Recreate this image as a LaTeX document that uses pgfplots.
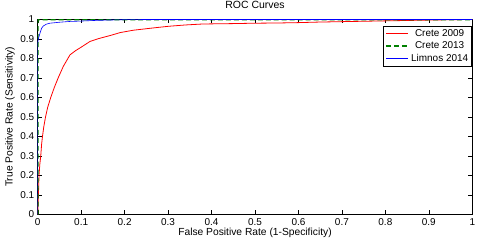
\documentclass[border=0pt]{standalone}
\usepackage{pgfplots}
\pgfplotsset{compat=1.18}
\usepackage{fontspec}
\setmainfont{Liberation Sans}
\definecolor{mgreen}{rgb}{0,0.5,0}
\begin{document}
\begin{tikzpicture}
\begin{axis}[
  scale only axis, width=434.6bp, height=195bp,
  xmin=0, xmax=1, ymin=0, ymax=1,
  xtick={0,0.1,...,1}, ytick={0,0.1,...,1},
  xticklabels={0,0.1,0.2,0.3,0.4,0.5,0.6,0.7,0.8,0.9,1},
  yticklabels={0,0.1,0.2,0.3,0.4,0.5,0.6,0.7,0.8,0.9,1},
  tick align=inside, tick pos=both, major tick length=4bp,
  tick label style={font=\fontsize{10}{11}\selectfont},
  major tick style={black, line width=0.4pt},
  xticklabel style={anchor=base, yshift=-10.5bp},
  yticklabel style={inner sep=0pt, xshift=-3.4bp},
  title={ROC Curves}, title style={font=\fontsize{10.5}{12}\selectfont, at={(0.5,1)}, anchor=base, yshift=5bp},
  xlabel={False Positive Rate (1-Specificity)}, ylabel={True Positive Rate (Sensitivity)},
  label style={font=\fontsize{10.3}{12}\selectfont},
  xlabel style={at={(0.5,0)}, anchor=base, yshift=-21bp},
  ylabel style={at={(0,0.5)}, anchor=center, yshift=27.7bp},
  legend style={at={(0.999,0.969)}, anchor=north east, font=\fontsize{10}{11.5}\selectfont,
    inner sep=1.5pt},
  legend image post style={xscale=1.3},
  axis line style={line width=0.5pt},
]
\addplot[red, line width=0.8pt] coordinates {
(0,0) (0.001,0.05) (0.002,0.12) (0.003,0.2) (0.005,0.26) (0.007,0.3) (0.009,0.36) (0.011,0.4)
(0.014,0.45) (0.018,0.5) (0.023,0.55) (0.03,0.6) (0.038,0.65) (0.047,0.7) (0.059,0.76)
(0.0744,0.819) (0.087,0.84) (0.1,0.858) (0.12,0.887) (0.14,0.902) (0.167,0.918) (0.19,0.933)
(0.22,0.945) (0.259,0.955) (0.3,0.965) (0.34,0.972) (0.38,0.977) (0.45,0.979)
(0.5,0.981) (0.55,0.982) (0.6,0.984) (0.65,0.987) (0.7,0.989) (0.75,0.991) (0.8,0.993)
(0.85,0.995) (0.9,0.997) (0.95,0.999) (1,1)
};
\addlegendentry{Crete 2009}
\addplot[mgreen, line width=2pt, dash pattern=on 5pt off 3pt] coordinates {
(0,0) (0,0.995) (0.003,1) (1,1)
};
\addlegendentry{Crete 2013}
\addplot[blue, line width=0.6pt] coordinates {
(0,0) (0,0.88) (0.002,0.905) (0.0053,0.93) (0.009,0.955) (0.013,0.967) (0.02,0.976)
(0.028,0.981) (0.05,0.986) (0.074,0.99) (0.1,0.992) (0.13,0.995) (0.16,0.997) (0.2,0.999)
(0.25,1) (1,1)
};
\addlegendentry{Limnos 2014}
\end{axis}
\path (current axis.south west) ++(-37.7bp,-26bp) coordinate (bbA);
\path (current axis.north east) ++(10.7bp,19.5bp) coordinate (bbB);
\pgfresetboundingbox
\path[use as bounding box] (bbA) rectangle (bbB);
\end{tikzpicture}
\end{document}
